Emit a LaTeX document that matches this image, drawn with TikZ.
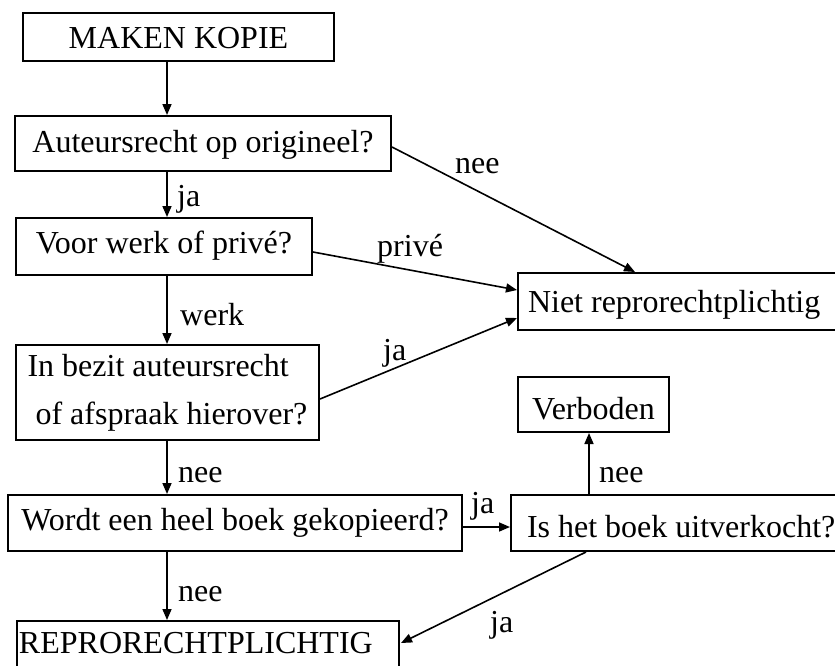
\documentclass[tikz,border=0pt]{standalone}
\usepackage{fontspec}
\setmainfont{Liberation Serif}
\usetikzlibrary{arrows.meta,calc}
\begin{document}
\begin{tikzpicture}[x=1pt,y=-1pt,
  txt/.style={font=\fontsize{32}{36}\selectfont},
  box/.style={txt,draw,line width=2pt,inner ysep=0pt,inner xsep=0pt,anchor=base},
  lbl/.style={txt,inner sep=0pt,anchor=base west},
  arr/.style={line width=1.6pt,-{Triangle[length=11pt,width=9pt]}}]
\useasboundingbox (0,0) rectangle (835,665);
\clip (0,0) rectangle (835,665);
\coordinate (col) at (167,0);
% boxes
\node[box,minimum width=311pt,text height=35pt,text depth=13pt] (A) at (178.5,48) {MAKEN KOPIE};
\node[box,minimum width=376pt,text height=36pt,text depth=19pt] (B) at (203,152) {Auteursrecht op origineel?};
\node[box,minimum width=296pt,text height=35pt,text depth=22pt] (C) at (164,253) {Voor werk of privé?};
\node[draw,line width=2pt,inner sep=0pt,minimum width=303pt,minimum height=95pt,
      font=\fontsize{32}{48}\selectfont,align=left] (D) at (167.5,392.5)
      {\raisebox{-11pt}{In bezit auteursrecht}\\\hspace*{8pt}\raisebox{-11pt}{of afspraak hierover?}};
\node[box,anchor=base west,inner xsep=10pt,text height=39pt,text depth=18pt] (N) at (517,312) {\makebox[340pt][l]{Niet reprorechtplichtig}};
\node[box,minimum width=151pt,text height=42pt,text depth=13pt] (V) at (593.5,419) {Verboden};
\node[box,minimum width=454pt,text height=35pt,text depth=21pt] (W) at (235,530) {Wordt een heel boek gekopieerd?};
\node[box,anchor=base west,inner xsep=16pt,text height=42pt,text depth=14pt] (I) at (510,537) {\makebox[340pt][l]{Is het boek uitverkocht?}};
\node[box,anchor=base west,inner xsep=2pt,text height=32pt,text depth=27pt] (R) at (16,653) {\makebox[378pt][l]{REPRORECHTPLICHTIG}};
% connectors
\draw[arr] (A.south -| col) -- (B.north -| col);
\draw[arr] (B.south -| col) -- (C.north -| col);
\draw[arr] (C.south -| col) -- (D.north -| col);
\draw[arr] (D.south -| col) -- (W.north -| col);
\draw[arr] (W.south -| col) -- (R.north -| col);
\draw[arr] ($(B.east)+(0,3.5)$) -- ($(N.north west)+(118,0)$);
\draw[arr] ($(C.east)+(0,5.5)$) -- ($(N.west)+(0,-11.5)$);
\draw[arr] ($(D.east)+(0,6.5)$) -- ($(N.west)+(0,16.5)$);
\draw[arr] ($(W.east)+(0,4)$) -- ($(I.west)+(0,4)$);
\draw[arr] ($(I.north west)+(79,0)$) -- ($(V.south)+(-4.5,0)$);
\draw[arr] ($(I.south west)+(76,0)$) -- ($(R.east)+(1,-7.5)$);
% labels
\node[lbl] (l1) at (177,206) {ja};
\node[lbl] (l2) at (180,325) {werk};
\node[lbl] (l3) at (455,173) {nee};
\node[lbl] (l4) at (377,256) {privé};
\node[lbl] (l5) at (383,360) {ja};
\node[lbl] (l6) at (178,482) {nee};
\node[lbl] (l7) at (599,482) {nee};
\node[lbl] (l8) at (471,513) {ja};
\node[lbl] (l9) at (178,601) {nee};
\node[lbl] (l10) at (490,632) {ja};
\end{tikzpicture}
\end{document}
